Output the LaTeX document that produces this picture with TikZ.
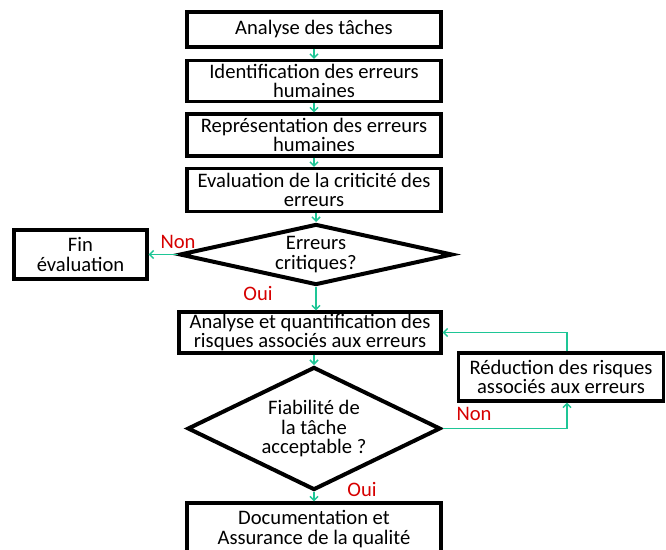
\documentclass[tikz,border=0pt]{standalone}
\usepackage{fontspec}
\setmainfont{Carlito}
\usetikzlibrary{shapes.geometric, arrows.meta}
\definecolor{flowgreen}{RGB}{30,198,150}
\definecolor{labred}{RGB}{214,0,0}

\begin{document}
\begin{tikzpicture}[x=1pt, y=-1pt,
  every node/.style={font=\fontsize{20.6}{19.5}\selectfont},
  box/.style={draw, line width=3.2pt, rectangle, align=center, inner sep=0pt},
  decision/.style={draw, line width=4pt, diamond, aspect=4, align=center, inner sep=0pt},
  flow/.style={flowgreen, line width=1.5pt, -{Straight Barb[length=4pt, width=8pt]}},
  lbl/.style={text=labred}]
\useasboundingbox (0,0) rectangle (666,549);

\node[box, minimum width=254pt, minimum height=35pt] (tache) at (314, 29.5) {Analyse des tâches};
\node[box, minimum width=254pt, minimum height=41pt] (ident) at (314, 81) {Identification des erreurs\\humaines};
\node[box, minimum width=254pt, minimum height=42pt] (repr) at (314, 135) {Représentation des erreurs\\humaines};
\node[box, minimum width=254pt, minimum height=43pt] (eval) at (314, 190) {Evaluation de la criticité des\\erreurs};

\node[decision, minimum width=273pt, minimum height=61pt] (crit) at (316, 254.5) {Erreurs\\critiques?};
\node[box, minimum width=133pt, minimum height=49pt] (fin) at (80.5, 254.5) {Fin\\évaluation};

\node[box, minimum width=262pt, minimum height=41pt] (quant) at (310, 332.5) {Analyse et quantification des\\risques associés aux erreurs};
\node[decision, minimum width=253pt, minimum height=123pt, aspect=2] (fiab) at (314, 428.5) {Fiabilité de\\la tâche\\acceptable ?};
\node[box, minimum width=205pt, minimum height=48pt] (reduc) at (561, 377) {Réduction des risques\\associés aux erreurs};
\node[box, minimum width=254pt, minimum height=52pt] (doc) at (314, 529) {Documentation et\\Assurance de la qualité};

% labels
\node[lbl] (non1) at (178, 242) {Non};
\node[lbl] (oui1) at (258, 293) {Oui};
\node[lbl] (non2) at (474, 414) {Non};
\node[lbl] (oui2) at (362, 489) {Oui};

\draw[flow] (tache) -- (ident);
\draw[flow] (ident) -- (repr);
\draw[flow] (repr) -- (eval);
\draw[flow] (eval.south -| crit.north) -- (crit.north);
\draw[flow] (crit.west) -- (fin.east);
\draw[flow] (crit.south) -- (crit.south |- quant.north);
\draw[flow] (quant.south -| fiab.north) -- (fiab.north);
\draw[flow] (fiab.east) -| ([xshift=6pt]reduc.south);
\draw[flow] ([xshift=6pt]reduc.north) |- (quant.east);
\draw[flow] (fiab.south) -- (doc.north);
\end{tikzpicture}
\end{document}
